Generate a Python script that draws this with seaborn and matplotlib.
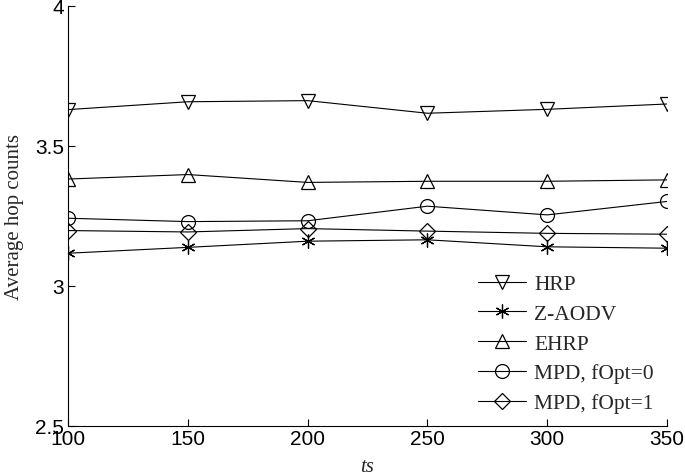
import pandas as pd
import matplotlib
matplotlib.use("Agg")
import matplotlib.pyplot as plt
import seaborn as sns

# dados
ts = [100, 150, 200, 250, 300, 350]
hrp = [3.630, 3.658, 3.662, 3.617, 3.631, 3.650]
zaodv = [3.117, 3.138, 3.160, 3.165, 3.140, 3.135]
ehrp = [3.382, 3.398, 3.370, 3.374, 3.374, 3.379]
mpd0 = [3.242, 3.230, 3.233, 3.285, 3.254, 3.302]
mpd1 = [3.198, 3.193, 3.205, 3.196, 3.188, 3.185]

series = [
    ('HRP', hrp, 'v'),
    ('Z-AODV', zaodv, (6, 2, 0)),
    ('EHRP', ehrp, '^'),
    ('MPD, fOpt=0', mpd0, 'o'),
    ('MPD, fOpt=1', mpd1, 'D'),
]

sns.set_theme(style='white')
plt.rcParams['font.family'] = ['Liberation Sans', 'DejaVu Sans']

fig = plt.figure(figsize=(6.85, 4.77), dpi=100)
ax = fig.add_axes([68 / 685, 1 - 427 / 477, (667 - 68) / 685, (427 - 7) / 477])

for nome, valores, marcador in series:
    df = pd.DataFrame({'ts': ts, 'hop': valores})
    ms = 8 if marcador == 'D' else 10
    sns.lineplot(data=df, x='ts', y='hop', ax=ax, label=nome, color='black',
                 linewidth=0.8, marker=marcador, markersize=ms,
                 markerfacecolor='none', markeredgecolor='black',
                 markeredgewidth=0.9)

ax.set_xlim(100, 350)
ax.set_ylim(2.5, 4)
ax.set_xticks(ts)
ax.set_yticks([2.5, 3, 3.5, 4])
ax.set_yticklabels(['2.5', '3', '3.5', '4'])
ax.tick_params(direction='in', length=5, width=0.8, labelsize=15, colors='black',
               bottom=True, left=True)
ax.tick_params(axis='x', pad=2)
ax.tick_params(axis='y', pad=3)
for lado in ['top', 'right']:
    ax.spines[lado].set_visible(False)
for lado in ['left', 'bottom']:
    ax.spines[lado].set_color('black')
    ax.spines[lado].set_linewidth(0.8)

ax.set_xlabel('ts', family='Liberation Serif', style='italic', fontsize=15, labelpad=7)
ax.set_ylabel('Average hop counts', family='Liberation Serif', fontsize=15, labelpad=8)

ax.legend(loc='lower right', bbox_to_anchor=(1.0, 0.0), frameon=False,
          prop={'family': 'Liberation Serif', 'size': 15.5},
          handlelength=2.2, handletextpad=0.4, labelspacing=0.45, borderaxespad=0.2)

fig.savefig('out.png', dpi=100)
